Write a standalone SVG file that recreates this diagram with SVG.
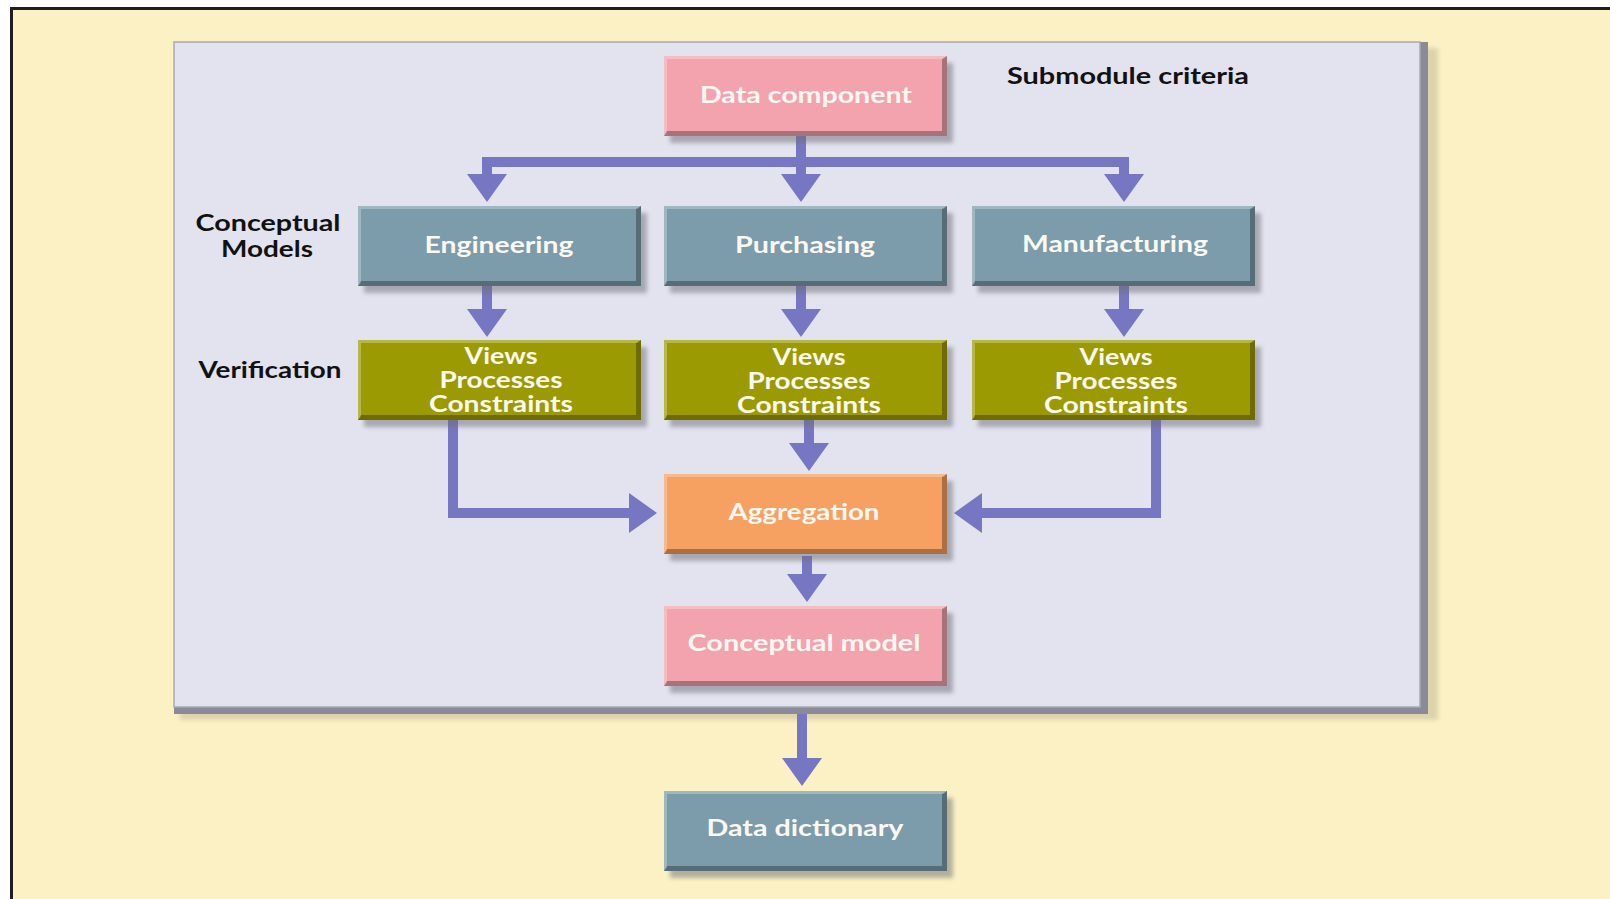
<svg xmlns="http://www.w3.org/2000/svg" xmlns:xlink="http://www.w3.org/1999/xlink" width="1610" height="899" viewBox="0 0 1610 899">
  <style>
    .face-pink { fill: #f3a3ae; }
    .face-steel { fill: #7c9bab; }
    .face-olive { fill: #9c9a02; }
    .face-orange { fill: #f6a061; }
    .box-text { font-family: Lato, "Open Sans", "Liberation Sans", sans-serif; font-weight: bold; font-size: 22px; fill: #fbf8f2; text-anchor: middle; }
    .side-label { font-family: Lato, "Open Sans", "Liberation Sans", sans-serif; font-weight: bold; font-size: 22px; fill: #111111; text-anchor: middle; }
    .flow { fill: none; stroke: #7776c2; stroke-width: 10; stroke-linejoin: miter; }
    .head { fill: #7776c2; }
  </style>
  <defs>
    <filter id="soft" x="-10%" y="-20%" width="120%" height="140%">
      <feGaussianBlur stdDeviation="2"/>
    </filter>
    <!-- drop shadow under each box -->
    <rect id="drop" x="6" y="7" width="283" height="80" fill="#6e6e78" opacity="0.5" filter="url(#soft)"/>
    <!-- bevelled edges: light top/left, dark bottom/right -->
    <g id="bevel">
      <polygon points="0,0 283,0 280,3 3,3 3,77 0,80" fill="#ffffff" opacity="0.28"/>
      <polygon points="283,0 283,80 0,80 3,75 278,75 278,3" fill="#000000" opacity="0.3"/>
    </g>
    <marker id="arrow" viewBox="0 0 28 40" refX="2" refY="20" markerWidth="28" markerHeight="40" markerUnits="userSpaceOnUse" orient="auto">
      <path class="head" d="M0,0 L28,20 L0,40 Z"/>
    </marker>
  </defs>

  <!-- page background and frame -->
  <rect x="0" y="0" width="1610" height="899" fill="#ffffff"/>
  <rect x="11.5" y="8.5" width="1700" height="1000" fill="#fbf1c4" stroke="#1e1e1e" stroke-width="3"/>

  <!-- submodule panel -->
  <g id="panel">
    <rect x="180" y="48" width="1258" height="672" fill="#cfc7a4" opacity="0.7" filter="url(#soft)"/>
    <rect x="174" y="42" width="1254" height="672" fill="#8b8a98"/>
    <rect x="174" y="42" width="1246" height="665" fill="#e3e2ef" stroke="#a9a8b4" stroke-width="1.5"/>
  </g>

  <!-- connectors -->
  <g id="connectors">
    <path class="flow" d="M801,136 V162"/>
    <path class="flow" d="M482,162 H1129"/>
    <path class="flow" d="M487,162 V176" marker-end="url(#arrow)"/>
    <path class="flow" d="M801,162 V176" marker-end="url(#arrow)"/>
    <path class="flow" d="M1124,157 V176" marker-end="url(#arrow)"/>

    <path class="flow" d="M487,286 V311" marker-end="url(#arrow)"/>
    <path class="flow" d="M801,286 V311" marker-end="url(#arrow)"/>
    <path class="flow" d="M1124,286 V311" marker-end="url(#arrow)"/>

    <path class="flow" d="M809,420 V445" marker-end="url(#arrow)"/>
    <path class="flow" d="M453,420 V513 H631" marker-end="url(#arrow)"/>
    <path class="flow" d="M1156,420 V513 H980" marker-end="url(#arrow)"/>

    <path class="flow" d="M807,556 V576" marker-end="url(#arrow)"/>
    <path class="flow" d="M802,714 V760" marker-end="url(#arrow)"/>
  </g>

  <!-- side labels -->
  <g id="labels">
    <text class="side-label" x="1128" y="84" textLength="242" lengthAdjust="spacingAndGlyphs">Submodule criteria</text>
    <text class="side-label" x="268" y="231" textLength="145" lengthAdjust="spacingAndGlyphs">Conceptual</text>
    <text class="side-label" x="267" y="257" textLength="92" lengthAdjust="spacingAndGlyphs">Models</text>
    <text class="side-label" x="270" y="378" textLength="143" lengthAdjust="spacingAndGlyphs">Verification</text>
  </g>

  <!-- nodes -->
  <g id="data-component" transform="translate(664,56)">
    <use xlink:href="#drop"/>
    <rect class="face-pink" width="283" height="80"/>
    <use xlink:href="#bevel"/>
    <text class="box-text" x="142" y="47" textLength="212" lengthAdjust="spacingAndGlyphs">Data component</text>
  </g>

  <g id="engineering" transform="translate(358,206)">
    <use xlink:href="#drop"/>
    <rect class="face-steel" width="283" height="80"/>
    <use xlink:href="#bevel"/>
    <text class="box-text" x="141" y="47" textLength="149" lengthAdjust="spacingAndGlyphs">Engineering</text>
  </g>

  <g id="purchasing" transform="translate(664,206)">
    <use xlink:href="#drop"/>
    <rect class="face-steel" width="283" height="80"/>
    <use xlink:href="#bevel"/>
    <text class="box-text" x="141" y="47" textLength="140" lengthAdjust="spacingAndGlyphs">Purchasing</text>
  </g>

  <g id="manufacturing" transform="translate(972,206)">
    <use xlink:href="#drop"/>
    <rect class="face-steel" width="283" height="80"/>
    <use xlink:href="#bevel"/>
    <text class="box-text" x="143" y="46" textLength="186" lengthAdjust="spacingAndGlyphs">Manufacturing</text>
  </g>

  <g id="verify-engineering" transform="translate(358,340)">
    <use xlink:href="#drop"/>
    <rect class="face-olive" width="283" height="80"/>
    <use xlink:href="#bevel"/>
    <text class="box-text" x="143" y="24" textLength="73" lengthAdjust="spacingAndGlyphs">Views</text>
    <text class="box-text" x="143" y="48" textLength="123" lengthAdjust="spacingAndGlyphs">Processes</text>
    <text class="box-text" x="143" y="72" textLength="144" lengthAdjust="spacingAndGlyphs">Constraints</text>
  </g>

  <g id="verify-purchasing" transform="translate(664,340)">
    <use xlink:href="#drop"/>
    <rect class="face-olive" width="283" height="80"/>
    <use xlink:href="#bevel"/>
    <text class="box-text" x="145" y="25" textLength="73" lengthAdjust="spacingAndGlyphs">Views</text>
    <text class="box-text" x="145" y="49" textLength="123" lengthAdjust="spacingAndGlyphs">Processes</text>
    <text class="box-text" x="145" y="73" textLength="144" lengthAdjust="spacingAndGlyphs">Constraints</text>
  </g>

  <g id="verify-manufacturing" transform="translate(972,340)">
    <use xlink:href="#drop"/>
    <rect class="face-olive" width="283" height="80"/>
    <use xlink:href="#bevel"/>
    <text class="box-text" x="144" y="25" textLength="73" lengthAdjust="spacingAndGlyphs">Views</text>
    <text class="box-text" x="144" y="49" textLength="123" lengthAdjust="spacingAndGlyphs">Processes</text>
    <text class="box-text" x="144" y="73" textLength="144" lengthAdjust="spacingAndGlyphs">Constraints</text>
  </g>

  <g id="aggregation" transform="translate(664,474)">
    <use xlink:href="#drop"/>
    <rect class="face-orange" width="283" height="80"/>
    <use xlink:href="#bevel"/>
    <text class="box-text" x="140" y="46" textLength="151" lengthAdjust="spacingAndGlyphs">Aggregation</text>
  </g>

  <g id="conceptual-model" transform="translate(664,606)">
    <use xlink:href="#drop"/>
    <rect class="face-pink" width="283" height="80"/>
    <use xlink:href="#bevel"/>
    <text class="box-text" x="140" y="45" textLength="233" lengthAdjust="spacingAndGlyphs">Conceptual model</text>
  </g>

  <g id="data-dictionary" transform="translate(664,791)">
    <use xlink:href="#drop"/>
    <rect class="face-steel" width="283" height="80"/>
    <use xlink:href="#bevel"/>
    <text class="box-text" x="141" y="45" textLength="197" lengthAdjust="spacingAndGlyphs">Data dictionary</text>
  </g>
</svg>
